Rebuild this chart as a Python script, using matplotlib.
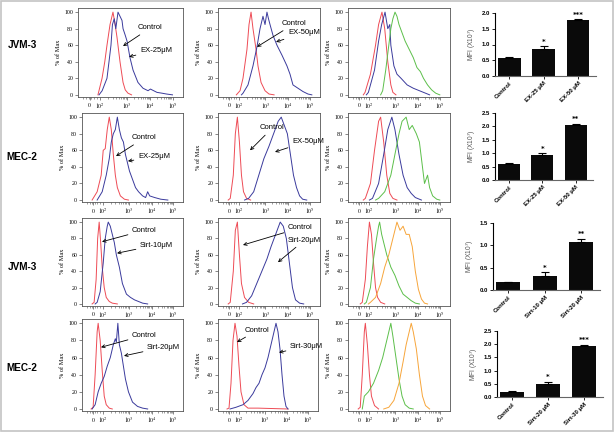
import matplotlib.pyplot as plt
import numpy as np
from matplotlib.patches import Rectangle

W, H = 614, 432

# x positions are per-mille of the panel width (cytometer display scale)
DECADE_POS = [110, 205, 465, 690, 900]
DECADE_LABELS = ["$0$", "$10^2$", "$10^3$", "$10^4$", "$10^5$"]

ROW_NAMES = ["JVM-3", "MEC-2", "JVM-3", "MEC-2"]

# ---- histogram curves: (channel, % of max) ----
R1C1_CTRL = np.array([[190, 0], [229, 20], [255, 40], [276, 60], [305, 85], [333, 100], [350, 88],
                      [371, 70], [400, 40], [429, 15], [450, 6], [476, 2], [510, 0]])
R1C1_EX = np.array([[200, 0], [230, 5], [276, 20], [300, 45], [314, 60], [328, 85], [345, 92], [360, 80],
                    [381, 100], [400, 95], [419, 90], [429, 80], [450, 72], [467, 65], [495, 45], [524, 30],
                    [571, 15], [619, 8], [667, 5], [690, 7], [705, 6], [752, 3], [800, 2], [843, 1], [900, 0]])
R1C2_CTRL = np.array([[180, 0], [216, 5], [245, 20], [284, 55], [304, 85], [324, 100], [343, 80], [373, 55],
                      [392, 35], [422, 15], [461, 5], [500, 1], [550, 0]])
R1C2_EX = np.array([[230, 0], [245, 2], [294, 12], [343, 35], [382, 58], [412, 80], [441, 95], [461, 85],
                    [480, 100], [495, 92], [510, 85], [539, 72], [578, 60], [627, 48], [676, 35], [706, 25],
                    [735, 12], [784, 8], [833, 4], [882, 1], [920, 0]])
R1C3_RED = np.array([[150, 0], [167, 3], [220, 25], [270, 60], [300, 85], [333, 100], [360, 80], [390, 40],
                     [420, 12], [440, 3], [470, 0]])
R1C3_BLUE = np.array([[180, 0], [200, 3], [260, 30], [300, 65], [330, 85], [363, 100], [390, 80], [410, 85],
                      [420, 60], [450, 35], [480, 25], [520, 20], [580, 12], [640, 8], [700, 5], [760, 2], [800, 0]])
R1C3_GREEN = np.array([[320, 0], [340, 5], [370, 30], [400, 60], [420, 80], [440, 92], [461, 100], [480, 95],
                       [500, 85], [530, 75], [560, 65], [600, 55], [640, 45], [676, 33], [710, 28], [740, 20],
                       [780, 12], [820, 6], [860, 2], [900, 0]])

R2C1_CTRL = np.array([[100, 0], [110, 2], [150, 10], [190, 30], [210, 60], [230, 62], [250, 85], [270, 100],
                      [290, 85], [310, 55], [330, 30], [350, 15], [380, 5], [420, 1], [460, 0]])
R2C1_EX = np.array([[150, 0], [160, 2], [200, 10], [240, 30], [270, 50], [290, 70], [310, 80], [330, 85],
                    [350, 100], [370, 85], [390, 75], [410, 70], [430, 55], [450, 45], [470, 35], [500, 25],
                    [530, 15], [560, 10], [600, 5], [630, 3], [650, 10], [670, 5], [720, 3], [780, 1], [850, 0]])
R2C2_CTRL = np.array([[100, 0], [120, 2], [150, 30], [170, 80], [190, 100], [210, 70], [230, 30], [250, 10],
                      [280, 2], [320, 0]])
R2C2_EX = np.array([[260, 0], [300, 2], [350, 10], [400, 30], [450, 50], [500, 65], [530, 75], [560, 85],
                    [590, 95], [620, 100], [650, 90], [680, 80], [710, 55], [740, 30], [770, 15], [800, 5],
                    [830, 1], [870, 0]])
R2C3_RED = np.array([[150, 0], [170, 2], [220, 20], [260, 60], [300, 95], [320, 100], [350, 70], [380, 30],
                     [410, 8], [440, 2], [480, 0]])
R2C3_BLUE = np.array([[210, 0], [240, 2], [300, 20], [350, 55], [390, 85], [430, 100], [460, 85], [500, 55],
                      [540, 30], [580, 15], [620, 8], [660, 3], [720, 0]])
R2C3_GREEN = np.array([[270, 0], [300, 2], [360, 10], [420, 30], [460, 55], [500, 80], [530, 95], [570, 100],
                       [600, 85], [630, 90], [670, 80], [700, 70], [720, 50], [750, 20], [780, 30], [800, 15],
                       [830, 5], [870, 1], [900, 0]])

R3C1_CTRL = np.array([[100, 0], [120, 2], [140, 30], [155, 80], [170, 100], [185, 75], [200, 45], [220, 20],
                      [240, 8], [270, 3], [300, 1], [350, 0]])
R3C1_SIRT = np.array([[130, 0], [150, 2], [180, 15], [210, 50], [230, 80], [250, 95], [260, 100], [280, 95],
                      [300, 85], [320, 75], [340, 60], [370, 45], [400, 25], [440, 12], [480, 8], [520, 5],
                      [560, 3], [600, 1], [650, 0]])
R3C2_CTRL = np.array([[100, 0], [120, 2], [150, 40], [170, 90], [190, 100], [210, 60], [230, 25], [260, 8],
                      [300, 2], [350, 0]])
R3C2_SIRT = np.array([[240, 0], [280, 2], [330, 10], [380, 25], [430, 40], [480, 55], [520, 70], [550, 80],
                      [580, 90], [610, 100], [640, 95], [670, 80], [700, 50], [730, 20], [760, 5], [800, 1],
                      [840, 0]])
R3C3_RED = np.array([[120, 0], [140, 2], [170, 30], [190, 70], [210, 100], [230, 85], [250, 50], [270, 20],
                     [290, 8], [320, 2], [360, 0]])
R3C3_GREEN = np.array([[160, 0], [180, 2], [220, 20], [250, 55], [280, 80], [300, 95], [310, 100], [330, 85],
                       [350, 75], [380, 60], [420, 45], [460, 35], [500, 22], [540, 12], [580, 8], [620, 4],
                       [660, 1], [700, 0]])
R3C3_ORANGE = np.array([[200, 0], [220, 2], [270, 8], [320, 25], [360, 45], [400, 60], [430, 75], [460, 90],
                        [480, 100], [510, 90], [540, 95], [570, 85], [600, 85], [630, 70], [660, 40], [690, 18],
                        [720, 6], [750, 1], [780, 0]])

R4C1_CTRL = np.array([[90, 0], [110, 2], [130, 40], [150, 90], [160, 100], [180, 80], [200, 45], [220, 15],
                      [240, 5], [270, 1], [300, 0]])
R4C1_SIRT = np.array([[100, 0], [130, 5], [160, 20], [190, 30], [220, 38], [250, 50], [280, 60], [310, 75],
                      [330, 82], [340, 78], [355, 100], [370, 75], [390, 65], [410, 50], [430, 35], [460, 20],
                      [500, 8], [550, 3], [600, 1], [650, 0]])
R4C2_CTRL = np.array([[90, 0], [110, 1], [130, 30], [150, 80], [170, 100], [190, 85], [210, 50], [230, 20],
                      [260, 5], [300, 1], [400, 1], [700, 0]])
R4C2_SIRT = np.array([[120, 0], [180, 2], [250, 5], [300, 10], [350, 18], [380, 25], [410, 30], [440, 40],
                      [470, 48], [500, 60], [530, 75], [560, 90], [580, 100], [600, 90], [620, 70], [640, 40],
                      [660, 15], [680, 3], [700, 0]])
R4C3_RED = np.array([[100, 0], [120, 2], [140, 40], [160, 90], [170, 100], [190, 75], [210, 40], [230, 15],
                     [260, 4], [300, 0]])
R4C3_GREEN = np.array([[140, 0], [160, 15], [200, 20], [250, 30], [300, 45], [340, 60], [380, 80], [410, 95],
                       [420, 100], [440, 85], [470, 60], [500, 35], [530, 15], [560, 5], [600, 1], [640, 0]])
R4C3_ORANGE = np.array([[350, 0], [400, 2], [450, 10], [500, 30], [540, 55], [570, 75], [600, 90], [620, 100],
                        [640, 90], [670, 70], [700, 40], [730, 15], [760, 4], [800, 0]])

# ---- MFI bar charts ----
EX_LABELS = ["Control", "EX-25 \u03bcM", "EX-50 \u03bcM"]
SIRT_A_LABELS = ["Control", "Sirt-10 \u03bcM", "Sirt-20 \u03bcM"]
SIRT_B_LABELS = ["Control", "Sirt-20 \u03bcM", "Sirt-30 \u03bcM"]

MFI_R1 = [0.58, 0.87, 1.78]
ERR_R1 = [0.02, 0.07, 0.02]
MFI_R2 = [0.60, 0.93, 2.07]
ERR_R2 = [0.04, 0.08, 0.03]
MFI_R3 = [0.17, 0.32, 1.08]
ERR_R3 = [0.02, 0.08, 0.07]
MFI_R4 = [0.20, 0.50, 1.93]
ERR_R4 = [0.04, 0.08, 0.05]
STARS_R1 = ["", "*", "***"]
STARS_R2 = ["", "*", "**"]
STARS_R3 = ["", "*", "**"]
STARS_R4 = ["", "*", "***"]

RED = "#ee4b55"
BLUE = "#3a3a9c"
GREEN = "#5cbf4a"
ORANGE = "#f7a53a"

SERIF = "Liberation Serif"
SANS = "Liberation Sans"


def box(left, top, right, bottom):
    return [left / W, 1 - bottom / H, (right - left) / W, (bottom - top) / H]


def hist_panel(fig, rect, curves, notes=()):
    ax = fig.add_axes(box(*rect))
    for data, color in curves:
        ax.plot(data[:, 0], data[:, 1], color=color, lw=0.7)
    ax.set_xlim(0, 1000)
    ax.set_ylim(-2, 105)
    ax.set_xticks(DECADE_POS)
    ax.set_xticklabels(DECADE_LABELS)
    minor = []
    for a, b in zip(DECADE_POS[1:-1], DECADE_POS[2:]):
        minor += [a + (b - a) * np.log10(k) for k in range(2, 10)]
    minor += list(np.linspace(DECADE_POS[0] - 60, DECADE_POS[1], 7))
    ax.set_xticks(minor, minor=True)
    ax.set_yticks(range(0, 101, 20))
    ax.tick_params(labelsize=4.2, length=2, width=0.5, pad=1.5, color="#555555")
    ax.tick_params(which="minor", length=1.2, width=0.4, color="#555555")
    for lab in ax.get_yticklabels() + ax.get_xticklabels():
        lab.set_fontfamily(SERIF)
    for sp in ax.spines.values():
        sp.set_linewidth(0.6)
        sp.set_color("#555555")
    ax.set_ylabel("% of Max", fontsize=4.5, family=SERIF, labelpad=2)
    for text, head, pos in notes:
        ax.annotate(text, xy=head, xytext=pos, fontsize=5.5, family=SANS, ha="left", va="center",
                    arrowprops=dict(arrowstyle="->", lw=0.6, color="black", shrinkA=1, shrinkB=0))
    return ax


def bar_panel(fig, rect, values, errs, labels, stars, ymax):
    ax = fig.add_axes(box(*rect))
    xs = np.arange(len(values))
    ax.bar(xs, values, width=0.66, color="#0a0a0a")
    ax.errorbar(xs, values, yerr=[np.zeros(len(errs)), errs], fmt="none", ecolor="black",
                elinewidth=0.8, capsize=3, capthick=0.8)
    for x, v, e, s in zip(xs, values, errs, stars):
        if s:
            ax.text(x, v + e + ymax * 0.02, s, ha="center", va="bottom", fontsize=5, fontweight="bold")
    ax.set_xlim(-0.42, 2.52)
    ax.set_ylim(0, ymax)
    ax.set_yticks(np.arange(0, ymax + 0.01, 0.5))
    ax.set_yticklabels([f"{t:.1f}" for t in np.arange(0, ymax + 0.01, 0.5)])
    ax.set_xticks(xs)
    ax.set_xticklabels(labels, rotation=45, ha="right", rotation_mode="anchor")
    ax.tick_params(labelsize=4.3, length=2, width=0.6, pad=1.5)
    for lab in ax.get_yticklabels() + ax.get_xticklabels():
        lab.set_fontweight("bold")
        lab.set_fontfamily(SANS)
    ax.spines["top"].set_visible(False)
    ax.spines["right"].set_visible(False)
    ax.spines["left"].set_linewidth(0.8)
    ax.spines["bottom"].set_linewidth(0.8)
    ax.spines["bottom"].set_color("#666666")
    ax.set_ylabel("MFI (X10$^3$)", fontsize=4.8, color="#555555", family=SANS, labelpad=3)
    return ax


def main() -> None:
    fig = plt.figure(figsize=(W / 100, H / 100), dpi=100)
    plt.rcParams["mathtext.fontset"] = "stix"

    fig.patches.append(Rectangle((0.002, 0.002), 0.996, 0.995, transform=fig.transFigure,
                                 fill=False, edgecolor="#c4c4c4", lw=1.2))

    for name, y in zip(ROW_NAMES, [45, 157, 267, 368]):
        fig.text(22 / W, 1 - y / H, name, ha="center", va="center", fontsize=7.2, fontweight="bold",
                 family=SANS)

    # row 1
    hist_panel(fig, (78, 8, 183, 96.5), [(R1C1_CTRL, RED), (R1C1_EX, BLUE)],
               [("Control", (429, 59), (571, 81)), ("EX-25\u03bcM", (486, 46), (590, 54))])
    hist_panel(fig, (218, 8, 320, 96.5), [(R1C2_CTRL, RED), (R1C2_EX, BLUE)],
               [("Control", (382, 58), (627, 86)), ("EX-50\u03bcM", (569, 64), (686, 75))])
    hist_panel(fig, (348, 8, 450, 96.5), [(R1C3_RED, RED), (R1C3_BLUE, BLUE), (R1C3_GREEN, GREEN)])
    bar_panel(fig, (495, 13, 596, 76), MFI_R1, ERR_R1, EX_LABELS, STARS_R1, 2.0)

    # row 2
    hist_panel(fig, (82, 113, 183, 201.7), [(R2C1_CTRL, RED), (R2C1_EX, BLUE)],
               [("Control", (337, 53), (495, 75)), ("EX-25\u03bcM", (455, 47), (554, 52))])
    hist_panel(fig, (218, 113, 320, 201.7), [(R2C2_CTRL, RED), (R2C2_EX, BLUE)],
               [("Control", (314, 60), (412, 87)), ("EX-50\u03bcM", (559, 58), (725, 71))])
    hist_panel(fig, (348, 113, 450, 201.7), [(R2C3_RED, RED), (R2C3_BLUE, BLUE), (R2C3_GREEN, GREEN)])
    bar_panel(fig, (495, 113, 593, 180), MFI_R2, ERR_R2, EX_LABELS, STARS_R2, 2.5)

    # row 3
    hist_panel(fig, (82, 218, 183, 305.6), [(R3C1_CTRL, RED), (R3C1_SIRT, BLUE)],
               [("Control", (198, 76), (495, 90)), ("Sirt-10\u03bcM", (347, 62), (574, 72))])
    hist_panel(fig, (218, 218, 320, 305.6), [(R3C2_CTRL, RED), (R3C2_SIRT, BLUE)],
               [("Control", (245, 72), (686, 93)), ("Sirt-20\u03bcM", (588, 51), (686, 78))])
    hist_panel(fig, (348, 218, 450, 305.6), [(R3C3_RED, RED), (R3C3_GREEN, GREEN), (R3C3_ORANGE, ORANGE)])
    bar_panel(fig, (493, 223, 600, 290), MFI_R3, ERR_R3, SIRT_A_LABELS, STARS_R3, 1.5)

    # row 4
    hist_panel(fig, (82, 319, 183, 410.7), [(R4C1_CTRL, RED), (R4C1_SIRT, BLUE)],
               [("Control", (188, 72), (495, 86)), ("Sirt-20\u03bcM", (416, 62), (644, 72))])
    hist_panel(fig, (218, 319, 318, 410.7), [(R4C2_CTRL, RED), (R4C2_SIRT, BLUE)],
               [("Control", (190, 78), (270, 92)), ("Sirt-30\u03bcM", (610, 66), (720, 73))])
    hist_panel(fig, (348, 319, 450, 410.7), [(R4C3_RED, RED), (R4C3_GREEN, GREEN), (R4C3_ORANGE, ORANGE)])
    bar_panel(fig, (497, 331, 603, 397), MFI_R4, ERR_R4, SIRT_B_LABELS, STARS_R4, 2.5)

    fig.savefig("out.png", dpi=100)
    plt.close(fig)


if __name__ == "__main__":
    main()
